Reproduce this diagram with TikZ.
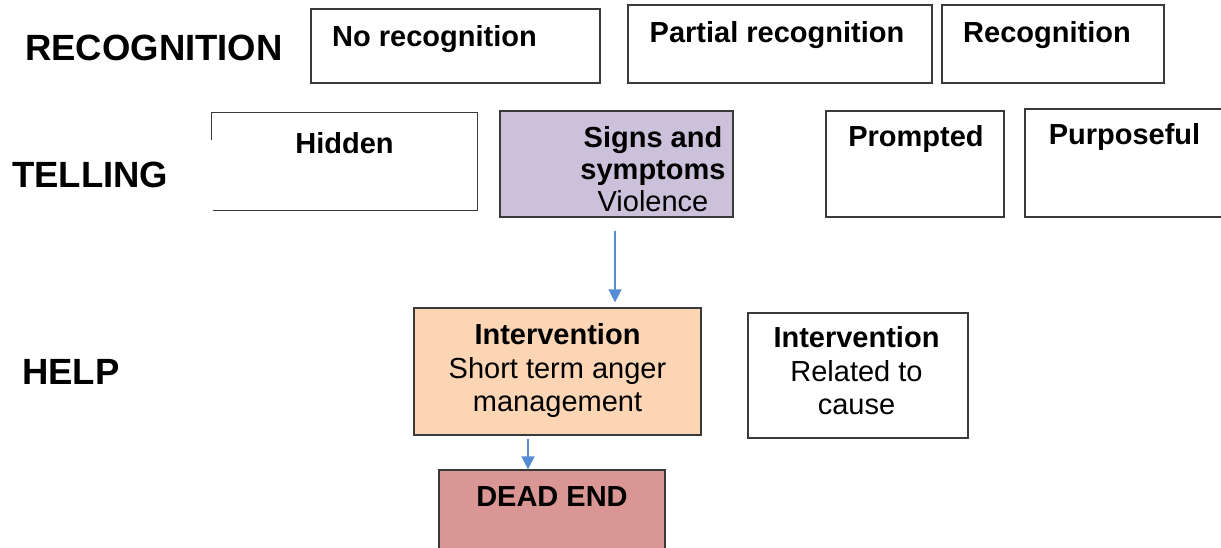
\documentclass[tikz,border=0pt]{standalone}
\usepackage{fontspec}
\setmainfont{Liberation Sans}
\usepackage{xcolor}
\usepackage{tikz}
\usetikzlibrary{positioning,arrows.meta}
\definecolor{edgegray}{HTML}{3A3A3A}
\definecolor{lilac}{HTML}{CCC1DA}
\definecolor{peach}{HTML}{FCD5B5}
\definecolor{rose}{HTML}{D99694}
\definecolor{flowblue}{HTML}{558ED5}
\tikzset{
  box/.style={draw=edgegray, line width=1.2pt, inner sep=0pt},
  bare/.style={inner sep=0pt},
  lab/.style={inner sep=0pt, align=center, font=\fontsize{29}{33.5}\selectfont},
  head/.style={inner sep=0pt, anchor=base west, font=\fontsize{36.5}{40}\selectfont\bfseries},
  flow/.style={draw=flowblue, line width=1.5pt, -{Triangle[width=13pt,length=13pt]}}
}

\begin{document}
\begin{tikzpicture}[x=1pt,y=1pt]
  \useasboundingbox (0,0) rectangle (1221,-548);

  % row titles
  \node[head] (rectitle) at (25,-61) {RECOGNITION};
  \node[head] (telltitle) at (12,-188) {TELLING};
  \node[head] (helptitle) at (22,-384) {HELP};

  % recognition row
  \node[box, minimum width=289pt, minimum height=74pt] (norec) at (455.5,-46) {};
  \node[box, minimum width=304pt, minimum height=78pt] (partrec) at (780,-44) {};
  \node[box, minimum width=222pt, minimum height=78pt] (rec) at (1053,-44) {};
  \node[lab, below=17.2pt of norec.north, xshift=-21pt] (norect) {\textbf{No recognition}};
  \node[lab, below=17.2pt of partrec.north, xshift=-3pt] (partrect) {\textbf{Partial recognition}};
  \node[lab, below=17.2pt of rec.north, xshift=-6pt] (rect) {\textbf{Recognition}};

  % telling row
  \node[bare, minimum width=265pt, minimum height=97pt] (hidden) at (344.5,-161.5) {};
  \draw[box] ([yshift=-27pt]hidden.north west) -- (hidden.north west) -- (hidden.north east)
    -- (hidden.south east) -- ([xshift=1pt]hidden.south west);
  \node[box, fill=lilac, minimum width=233pt, minimum height=106pt] (signs) at (616.5,-164) {};
  \node[box, minimum width=178pt, minimum height=106pt] (prompted) at (915,-164) {};
  \node[box, minimum width=215pt, minimum height=108pt] (purpose) at (1132.5,-163) {};
  \node[lab, below=19.2pt of hidden.north] (hiddent) {\textbf{Hidden}};
  \node[lab, below=16.2pt of signs.north, xshift=36.5pt, font=\fontsize{29}{32}\selectfont] (signst)
    {\textbf{Signs and}\\\textbf{symptoms}\\Violence};
  \node[lab, below=15.2pt of prompted.north, xshift=1pt] (promptedt) {\textbf{Prompted}};
  \node[lab, below=15.2pt of purpose.north, xshift=-8pt] (purposet) {\textbf{Purposeful}};

  % help row
  \node[box, fill=peach, minimum width=287pt, minimum height=127pt] (interv) at (557.5,-371.5) {};
  \node[box, minimum width=220pt, minimum height=125pt] (related) at (858,-375.5) {};
  \node[box, fill=rose, minimum width=226pt, minimum height=90pt] (dead) at (552,-515) {};
  \node[lab, below=16.2pt of interv.north] (intervt)
    {\textbf{Intervention}\\Short term anger\\management};
  \node[lab, below=14.2pt of related.north, xshift=-1.5pt] (relatedt)
    {\textbf{Intervention}\\Related to\\cause};
  \node[lab, below=17.2pt of dead.north] (deadt) {\textbf{DEAD END}};

  % arrows
  \draw[flow, shorten <=13pt, shorten >=5pt] ([xshift=-1.5pt]signs.south) -- ([xshift=-1.5pt]signs.south |- interv.north);
  \draw[flow, shorten <=3pt] ([xshift=-29.5pt]interv.south) -- ([xshift=-29.5pt]interv.south |- dead.north);
\end{tikzpicture}
\end{document}
